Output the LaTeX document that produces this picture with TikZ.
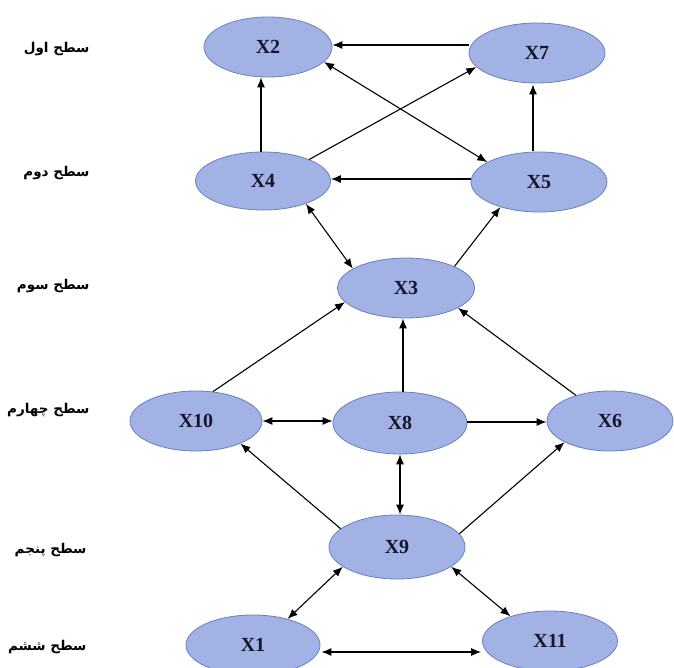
\documentclass[tikz,border=0pt]{standalone}
\usepackage{fontspec}
\setmainfont{Liberation Serif}
\newfontfamily\arabicfont[Script=Arabic]{DejaVu Sans}
\TeXXeTstate=1
\usetikzlibrary{arrows.meta,shapes.geometric}
\definecolor{nodefill}{HTML}{A3B2E4}
\definecolor{nodeborder}{HTML}{6A80C4}
\definecolor{nodetext}{HTML}{16162A}
\tikzset{
  var/.style={ellipse, draw=nodeborder, fill=nodefill, line width=0.8pt,
    minimum width=#1, minimum height=60pt, inner sep=0pt,
    font=\fontsize{20}{22}\selectfont\bfseries, text=nodetext},
  var/.default=134pt,
  lvl/.style={anchor=east, font=\arabicfont\bfseries\fontsize{13.5}{16}\selectfont, text=black},
  arr/.style={-{Latex[length=10pt,width=8pt]}, line width=1.1pt, black},
  barr/.style={{Latex[length=10pt,width=8pt]}-{Latex[length=10pt,width=8pt]}, line width=1.1pt, black}
}
\begin{document}
\begin{tikzpicture}[x=1pt,y=-1pt]
\useasboundingbox (0,0) rectangle (674,668);
\fill[white] (0,0) rectangle (674,668);
% nodes
\node[var=128pt] (x2) at (268,47) {X2};
\node[var=136pt] (x7) at (537,53) {X7};
\node[var=135pt,minimum height=58pt] (x4) at (263,181) {X4};
\node[var=136pt] (x5) at (539,182) {X5};
\node[var=137pt] (x3) at (406,288) {X3};
\node[var=132pt] (x10) at (196,421) {X10};
\node[var=134pt,minimum height=62pt] (x8) at (400,423) {X8};
\node[var=126pt] (x6) at (610,421) {X6};
\node[var=136pt,minimum height=64pt] (x9) at (397,547) {X9};
\node[var=134pt] (x1) at (253,645) {X1};
\node[var=135pt] (x11) at (550,641) {X11};
% level labels
\node[lvl] (l1) at (93,49) {\beginR سطح اول\endR};
\node[lvl] (l2) at (93,173) {\beginR سطح دوم\endR};
\node[lvl] (l3) at (93,286) {\beginR سطح سوم\endR};
\node[lvl] (l4) at (93,410) {\beginR سطح چهارم\endR};
\node[lvl] (l5) at (90,550) {\beginR سطح پنجم\endR};
\node[lvl] (l6) at (90,647) {\beginR سطح ششم\endR};
% guide lines for horizontal and vertical connectors
\coordinate (h1) at (0,45);
\coordinate (h2) at (0,179);
\coordinate (h3) at (0,421);
\coordinate (h4) at (0,422);
\coordinate (h5) at (0,652);
\coordinate (v1) at (261,0);
\coordinate (v2) at (533,0);
\coordinate (v3) at (403,0);
\coordinate (v4) at (400,0);
% edges
\draw[arr] (x7.west |- h1) -- (x2.east |- h1);
\draw[arr] (x4.north -| v1) -- (x2.south -| v1);
\draw[arr] (x4.25) -- (x7.193);
\draw[barr] (x2.345) -- (x5.159);
\draw[arr] ([yshift=1pt]x5.north -| v2) -- ([yshift=-1pt]x7.south -| v2);
\draw[arr] (x5.west |- h2) -- (x4.east |- h2);
\draw[barr] (x4.332) -- (x3.160);
\draw[arr] (x3.24) -- (x5.213);
\draw[arr] (x10.60) -- (x3.193);
\draw[arr] (x8.north -| v3) -- (x3.south -| v3);
\draw[arr] (x6.143) -- (x3.339);
\draw[barr] (x10.east |- h3) -- (x8.west |- h3);
\draw[arr] (x8.east |- h4) -- (x6.west |- h4);
\draw[arr] (x9.162) -- (x10.333);
\draw[barr] (x9.north -| v4) -- (x8.south -| v4);
\draw[arr] (x9.12) -- (x6.205);
\draw[barr] (x9.200) -- (x1.37);
\draw[barr] (x9.340) -- (x11.148);
\draw[barr] ([xshift=1pt]x1.east |- h5) -- ([xshift=-1pt]x11.west |- h5);
\end{tikzpicture}
\end{document}
